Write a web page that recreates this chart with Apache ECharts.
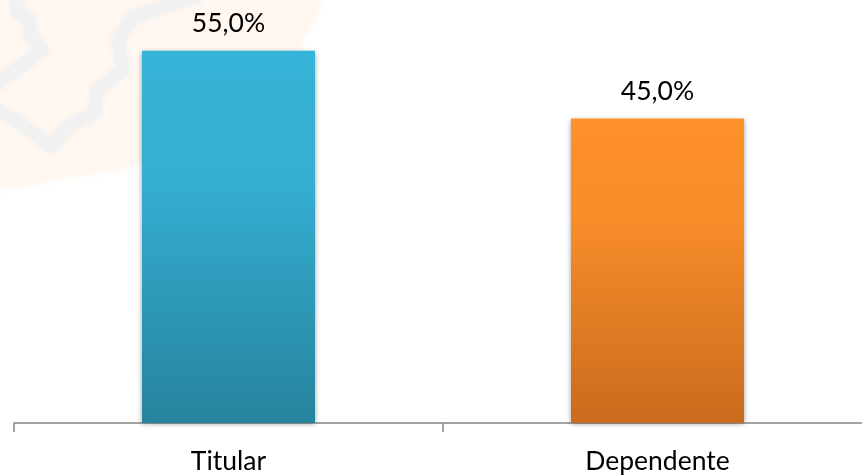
<!DOCTYPE html>
<html>
<head>
<meta charset="utf-8">
<style>html,body{margin:0;padding:0;background:#fff}#c{width:862px;height:475px}</style>
<script src="https://cdn.jsdelivr.net/npm/echarts@6/dist/echarts.min.js"></script>
</head>
<body>
<div id="c"></div>
<script>
const categories = ['Titular', 'Dependente'];
const values = [55.0, 45.0];
const topColors = ['#36b3d8', '#ff912b'];
const midColors = ['#35aed2', '#f78c29'];
const bottomColors = ['#26839d', '#c96b1e'];

function grad(i) {
  return new echarts.graphic.LinearGradient(0, 0, 0, 1, [
    { offset: 0, color: topColors[i] },
    { offset: 0.35, color: midColors[i] },
    { offset: 1, color: bottomColors[i] }
  ]);
}

const chart = echarts.init(document.getElementById('c'), null, { renderer: 'canvas' });
chart.setOption({
  animation: false,
  backgroundColor: '#ffffff',
  graphic: {
    elements: [
      {
        type: 'polygon', z: -10, silent: true,
        shape: { smooth: 0.25, points: [[-30,-30],[325,-30],[318,10],[300,45],[270,90],[140,163],[67,177],[-30,184]] },
        style: { fill: '#fff7f0', shadowBlur: 8, shadowColor: '#fff7f0' }
      },
      {
        type: 'polyline', z: -9, silent: true,
        shape: { points: [[15,-5],[18,13],[30,20],[29,33],[42,50],[20,67],[-5,85]] },
        style: { stroke: '#f1f1f1', lineWidth: 13, fill: 'none', lineJoin: 'round', shadowBlur: 6, shadowColor: '#f1f1f1' }
      },
      {
        type: 'polyline', z: -9, silent: true,
        shape: { points: [[-5,108],[20,123],[52,147],[67,127],[95,113],[97,90],[123,70],[118,40],[133,17],[167,5],[200,-5]] },
        style: { stroke: '#f1f1f1', lineWidth: 13, fill: 'none', lineJoin: 'round', shadowBlur: 6, shadowColor: '#f1f1f1' }
      }
    ]
  },
  grid: { left: 14, top: 17, width: 858, height: 406, containLabel: false, outerBoundsMode: 'none' },
  xAxis: {
    type: 'category',
    data: categories,
    boundaryGap: true,
    axisLine: { lineStyle: { color: '#868686', width: 1.5 } },
    axisTick: { show: true, alignWithLabel: false, length: 9, lineStyle: { color: '#868686', width: 1.5 } },
    axisLabel: { color: '#000000', fontFamily: 'Lato', fontSize: 26.5, margin: 25 }
  },
  yAxis: { type: 'value', min: 0, max: 60, show: false, splitLine: { show: false } },
  series: [{
    type: 'bar',
    barWidth: 173,
    data: values.map((v, i) => ({
      value: v,
      itemStyle: {
        color: grad(i),
        shadowBlur: 5,
        shadowColor: 'rgba(0,0,0,0.4)',
        shadowOffsetY: 1
      }
    })),
    label: {
      show: true,
      position: 'top',
      distance: 14,
      color: '#000000',
      fontFamily: 'Lato',
      fontSize: 26.5,
      formatter: p => p.value.toFixed(1).replace('.', ',') + '%'
    }
  }]
});
</script>
</body>
</html>
